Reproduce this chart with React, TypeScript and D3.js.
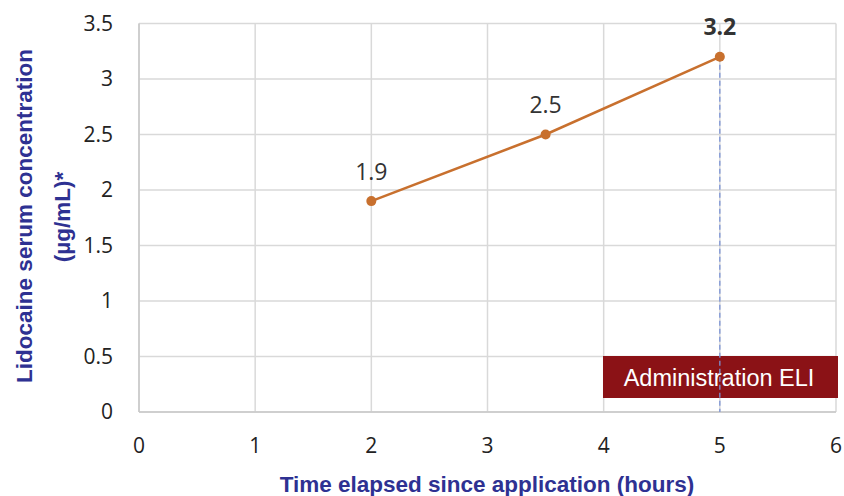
import React from "react";
import * as d3 from "d3";

const times = [2, 3.5, 5];
const concentrations = [1.9, 2.5, 3.2];
const pointLabels = ["1.9", "2.5", "3.2"];
const xTicks = [0, 1, 2, 3, 4, 5, 6];
const yTicks = [0, 0.5, 1, 1.5, 2, 2.5, 3, 3.5];
const yTickLabels = ["0", "0.5", "1", "1.5", "2", "2.5", "3", "3.5"];
const eliTime = 5;
const eliLabel = "Administration ELI";
const xTitle = "Time elapsed since application (hours)";
const yTitle1 = "Lidocaine serum concentration";
const yTitle2 = "(µg/mL)*";

export default function App() {
  const W = 844, H = 496;
  const x = d3.scaleLinear().domain([0, 6]).range([139, 836]);
  const y = d3.scaleLinear().domain([0, 3.5]).range([412, 23.5]);
  const pts = times.map((t, i) => [x(t), y(concentrations[i])] as [number, number]);
  const line = d3.line()(pts) || "";
  const tickFont = "'Open Sans', sans-serif";
  const titleFont = "'Liberation Sans', Arial, sans-serif";
  const blue = "#2E3192";
  return (
    <svg width={W} height={H} style={{ position: "absolute", left: 0, top: 0, background: "#fff" }}>
      <rect width={W} height={H} fill="#fff" />
      {yTicks.map((v) => (
        <line key={"gy" + v} x1={x(0)} x2={x(6)} y1={y(v)} y2={y(v)} stroke="#d9d9d9" strokeWidth={1.5} />
      ))}
      {xTicks.map((v) => (
        <line key={"gx" + v} x1={x(v)} x2={x(v)} y1={y(0)} y2={y(3.5)} stroke="#d9d9d9" strokeWidth={1.5} />
      ))}
      <line x1={x(0)} x2={x(6)} y1={y(0)} y2={y(0)} stroke="#c8c8c8" strokeWidth={1.5} />
      <line x1={x(0)} x2={x(0)} y1={y(0)} y2={y(3.5)} stroke="#c8c8c8" strokeWidth={1.5} />
      {yTicks.map((v, i) => (
        <text key={"ty" + v} x={113} y={y(v)} dy="0.35em" textAnchor="end" fontFamily={tickFont} fontSize={21} fill="#222">
          {yTickLabels[i]}
        </text>
      ))}
      {xTicks.map((v) => (
        <text key={"tx" + v} x={x(v)} y={446} dy="0.35em" textAnchor="middle" fontFamily={tickFont} fontSize={21} fill="#222">
          {v}
        </text>
      ))}
      <rect x={603} y={356} width={235} height={42} fill="#8B1216" />
      <text x={719} y={378} dy="0.35em" textAnchor="middle" fontFamily={titleFont} fontSize={23.5} fill="#fff">
        {eliLabel}
      </text>
      <line x1={x(eliTime)} x2={x(eliTime)} y1={y(concentrations[2])} y2={y(0)} stroke="#7b93d6" strokeWidth={1.3} strokeDasharray="5,3" />
      <path d={line} fill="none" stroke="#C8702E" strokeWidth={2.5} />
      {pts.map((p, i) => (
        <circle key={"c" + i} cx={p[0]} cy={p[1]} r={5} fill="#C8702E" />
      ))}
      {pts.map((p, i) => (
        <text key={"l" + i} x={p[0]} y={p[1] - 29.5} dy="0.35em" textAnchor="middle" fontFamily={tickFont} fontSize={23}
          fontWeight={i === 2 ? 700 : 400} fill="#333">
          {pointLabels[i]}
        </text>
      ))}
      <text x={487} y={484} dy="0.35em" textAnchor="middle" fontFamily={titleFont} fontSize={22.5} fontWeight={700} fill={blue}>
        {xTitle}
      </text>
      <text transform={`translate(24,216) rotate(-90)`} dy="0.35em" textAnchor="middle" fontFamily={titleFont} fontSize={22.5} fontWeight={700} fill={blue}>
        {yTitle1}
      </text>
      <text transform={`translate(62,217) rotate(-90)`} dy="0.35em" textAnchor="middle" fontFamily={titleFont} fontSize={22.5} fontWeight={700} fill={blue}>
        {yTitle2}
      </text>
    </svg>
  );
}
